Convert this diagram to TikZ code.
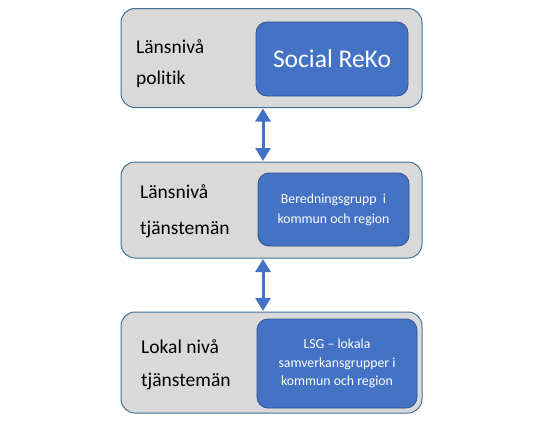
\documentclass[tikz,border=0pt]{standalone}
\usepackage{fontspec}
\setmainfont{Carlito}[Ligatures={NoCommon}]
\usetikzlibrary{arrows.meta}
\definecolor{outerfill}{HTML}{D9D9D9}
\definecolor{outerline}{HTML}{41719C}
\definecolor{innerfill}{HTML}{4472C4}
\definecolor{innerline}{HTML}{2F528F}
\tikzset{
  outerbox/.style={draw=outerline, line width=1pt, fill=outerfill, rounded corners=14pt, inner sep=0pt},
  innerbox/.style={draw=innerline, line width=0.8pt, fill=innerfill, rounded corners=11pt, inner sep=0pt},
  lbl/.style={anchor=base west, inner sep=0pt, font=\fontsize{19.5}{23}\selectfont, text=black},
  intext/.style={text=white, align=center, inner sep=0pt},
  arr/.style={{Triangle[width=15pt,length=13pt]}-{Triangle[width=15pt,length=13pt]}, draw=innerfill, line width=3pt, shorten <=0.5pt, shorten >=0.5pt}
}
\begin{document}
\begin{tikzpicture}[x=1pt,y=-1pt]
\useasboundingbox (0,0) rectangle (553,423);
% outer boxes
\node[outerbox, minimum width=301pt, minimum height=99pt] (o1) at (271.5,58) {};
\node[outerbox, minimum width=301pt, minimum height=96pt] (o2) at (271.5,210) {};
\node[outerbox, minimum width=301pt, minimum height=101pt] (o3) at (271.5,362.5) {};
% inner boxes
\node[innerbox, minimum width=152pt, minimum height=74pt] (i1) at (332,59) {};
\node[innerbox, minimum width=151pt, minimum height=73pt] (i2) at (333.5,209.5) {};
\node[innerbox, minimum width=160pt, minimum height=89pt] (i3) at (337,363.5) {};
% inner texts
\node[intext, font=\fontsize{25.5}{29}\selectfont] (t1) at (i1.center) {Social ReKo};
\node[intext, font=\fontsize{13.8}{20}\selectfont] (t2) at (i2.center) {Beredningsgrupp\ \ i\\kommun och region};
\node[intext, font=\fontsize{13.8}{18.5}\selectfont] (t3) at (i3.center) {LSG – lokala\\samverkansgrupper i\\kommun och region};
% left labels
\node[lbl] (l1a) at (136,53) {Länsnivå};
\node[lbl] (l1b) at (136,84) {politik};
\node[lbl] (l2a) at (140,198) {Länsnivå};
\node[lbl] (l2b) at (140,234) {tjänstemän};
\node[lbl] (l3a) at (141,353) {Lokal nivå};
\node[lbl] (l3b) at (141,386) {tjänstemän};
% arrows
\coordinate (ax) at (263,0);
\draw[arr] (o1.south -| ax) -- (o2.north -| ax);
\draw[arr] (o2.south -| ax) -- (o3.north -| ax);
\end{tikzpicture}
\end{document}
